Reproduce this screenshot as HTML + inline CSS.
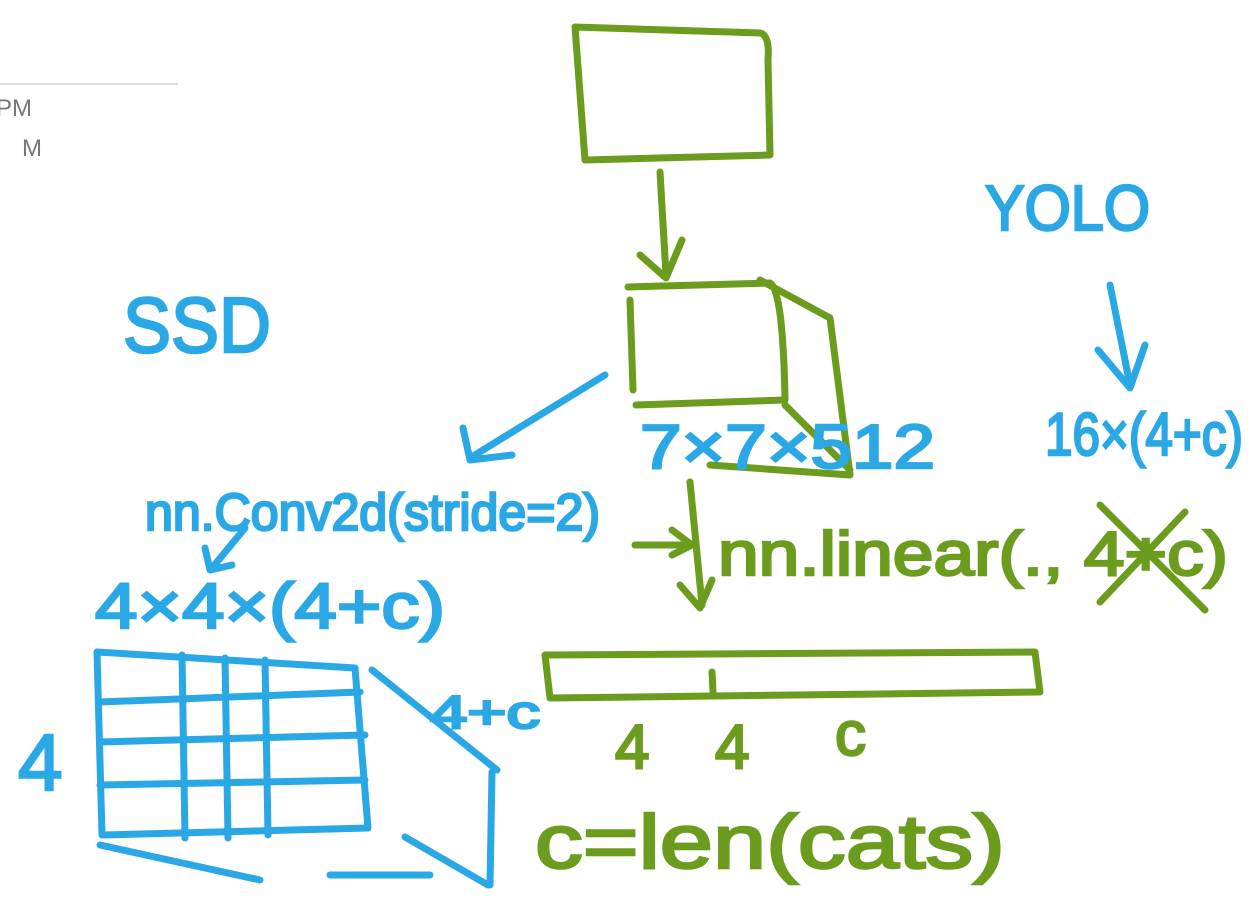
<!DOCTYPE html>
<html><head><meta charset="utf-8"><style>
html,body{margin:0;padding:0;background:#fff;width:1260px;height:917px;overflow:hidden}
svg{display:block}
.g{stroke:#6b9c1e;fill:none;stroke-width:7;stroke-linecap:round;stroke-linejoin:round}
.b{stroke:#2aa8e6;fill:none;stroke-width:7;stroke-linecap:round;stroke-linejoin:round}
.gt{fill:#6b9c1e;stroke:#6b9c1e;stroke-width:2.5;font-family:"Liberation Sans",sans-serif}
.bt{fill:#2aa8e6;stroke:#2aa8e6;stroke-width:2.5;font-family:"Liberation Sans",sans-serif}
</style></head><body>
<svg width="1260" height="917" viewBox="0 0 1260 917">
<line x1="0" y1="84" x2="178" y2="84" stroke="#ddd" stroke-width="2"/>
<text x="-4" y="116" font-size="24" fill="#777" font-family="Liberation Sans,sans-serif">PM</text>
<text x="22" y="156" font-size="24" fill="#777" font-family="Liberation Sans,sans-serif">M</text>

<path class="g" d="M575 27 L760 33 Q770 35 768 60 L770 155 L585 160 Z"/>
<path class="g" d="M660 172 L666 275 M640 255 L666 278 L682 240"/>
<g class="g">
<path d="M628 287 L770 283 Q783 290 785 400 L636 405"/><path d="M630 300 L633 390"/>
<path d="M760 280 L830 318 L850 475 L710 465"/><path d="M785 405 L850 470"/>
</g>
<text class="bt" x="640" y="468" font-size="62" textLength="295" lengthAdjust="spacingAndGlyphs">7×7×512</text>

<path class="b" d="M605 375 L470 458 M463 428 L470 460 L512 455"/>
<text class="bt" x="123" y="352" font-size="78" textLength="148" lengthAdjust="spacingAndGlyphs">SSD</text>
<text class="bt" x="145" y="530" font-size="52" textLength="455" lengthAdjust="spacingAndGlyphs">nn.Conv2d(stride=2)</text>
<path class="b" d="M245 528 L212 568 M205 548 L210 570 L232 565"/>
<text class="bt" x="95" y="628" font-size="64" textLength="350" lengthAdjust="spacingAndGlyphs">4×4×(4+c)</text>
<g class="b">
<path d="M97 652 L355 668 L368 828 L102 835 Z"/>
<path d="M182 655 L185 838 M225 658 L228 838 M265 660 L268 835"/>
<path d="M100 702 L360 692 M100 742 L365 735 M100 785 L365 780"/>
<path d="M372 670 L497 770 M492 772 L490 885 M100 845 L260 880 M330 875 L430 875 M405 837 L488 885"/>
</g>
<text class="bt" x="18" y="790" font-size="80">4</text>
<text class="bt" x="430" y="728" font-size="46" textLength="110" lengthAdjust="spacingAndGlyphs">4+c</text>

<path class="g" d="M690 482 L702 605 M680 585 L700 608 L712 580 M635 545 L690 545 M672 530 L692 545 L672 555"/>
<text class="gt" x="718" y="575" font-size="62" textLength="510" lengthAdjust="spacingAndGlyphs">nn.linear(., 4+c)</text>
<path class="g" d="M1100 505 L1205 610 M1100 602 L1185 512"/>
<path class="g" d="M545 655 L1035 652 L1040 692 L550 698 Z M712 672 L713 692"/>
<text class="gt" x="615" y="768" font-size="62">4</text>
<text class="gt" x="715" y="768" font-size="62">4</text>
<text class="gt" x="835" y="755" font-size="62">c</text>
<text class="gt" x="535" y="868" font-size="76" textLength="470" lengthAdjust="spacingAndGlyphs">c=len(cats)</text>

<text class="bt" x="985" y="230" font-size="64" textLength="165" lengthAdjust="spacingAndGlyphs">YOLO</text>
<path class="b" d="M1110 285 L1130 385 M1098 350 L1130 388 L1145 345"/>
<text class="bt" x="1045" y="455" font-size="60" textLength="198" lengthAdjust="spacingAndGlyphs">16×(4+c)</text>
</svg>
</body></html>
